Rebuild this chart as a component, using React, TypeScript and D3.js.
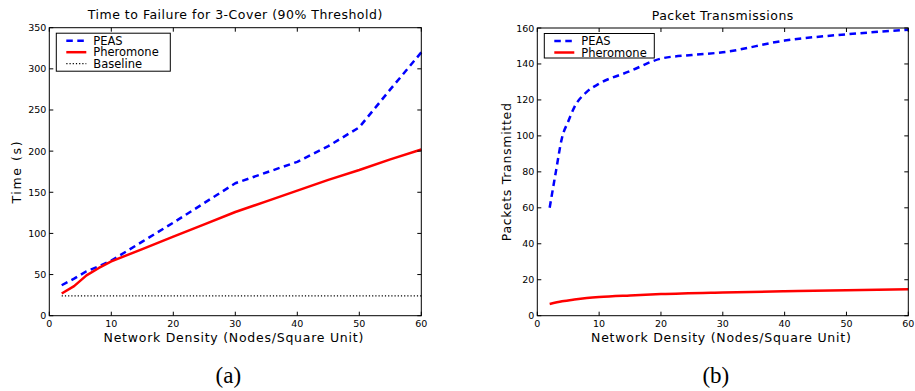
import React, { useEffect, useRef } from 'react';
import * as d3 from 'd3';

// ---- data ----
const densityA = [2, 4, 6, 8, 10, 15, 20, 25, 30, 35, 40, 45, 50, 55, 60];
const peasTime = [37, 45, 54, 60, 67, 90, 113, 137, 161, 174, 187, 206, 229, 275, 320];
const pheromoneTime = [27, 36, 49, 58, 66, 81, 96, 111, 126, 139, 152, 165, 177, 190, 202];
const baselineX = [2, 60];
const baselineTime = [24, 24];

const densityPeasB = [2, 3, 4, 5, 6, 8, 10, 15, 20, 25, 30, 40, 50, 60];
const peasPackets = [60, 80, 99, 108, 116, 124.5, 129, 136, 143, 145, 146.5, 153, 156.5, 159];
const densityPherB = [2, 4, 6, 8, 10, 15, 20, 30, 40, 50, 60];
const pheromonePackets = [6.5, 8, 9, 9.8, 10.4, 11.3, 12, 12.9, 13.6, 14.2, 14.7];

const xTicks = [0, 10, 20, 30, 40, 50, 60];
const yTicksA = [0, 50, 100, 150, 200, 250, 300, 350];
const yTicksB = [0, 20, 40, 60, 80, 100, 120, 140, 160];

const FONT = 'DejaVu Sans, sans-serif';

type Series = {
    name: string;
    xs: number[];
    ys: number[];
    color: string;
    width: number;
    dash: string | null;
};

type PanelProps = {
    left: number;
    right: number;
    top: number;
    bottom: number;
    yMax: number;
    yTicks: number[];
    title: string;
    yLabel: string;
    yLabelX: number;
    yLabelSpacing: number;
    caption: string;
    series: Series[];
    smooth: boolean;
    legendW: number;
    legendH: number;
};

function drawPanel(svg: d3.Selection<SVGSVGElement, unknown, null, undefined>, p: PanelProps) {
    const g = svg.append('g');
    const x = d3.scaleLinear().domain([0, 60]).range([p.left, p.right]);
    const y = d3.scaleLinear().domain([0, p.yMax]).range([p.bottom, p.top]);
    const tickLen = 4;

    // lines
    const line = d3.line<[number, number]>()
        .x(d => x(d[0]))
        .y(d => y(d[1]))
        .curve(p.smooth ? d3.curveMonotoneX : d3.curveLinear);

    p.series.forEach(s => {
        const pts: [number, number][] = s.xs.map((v, i) => [v, s.ys[i]]);
        g.append('path')
            .attr('d', line(pts))
            .attr('fill', 'none')
            .attr('stroke', s.color)
            .attr('stroke-width', s.width)
            .attr('stroke-dasharray', s.dash)
            .attr('stroke-linejoin', 'round');
    });

    // frame
    g.append('rect')
        .attr('x', p.left).attr('y', p.top)
        .attr('width', p.right - p.left).attr('height', p.bottom - p.top)
        .attr('fill', 'none').attr('stroke', '#000').attr('stroke-width', 1);

    // ticks, inside on all four sides
    xTicks.forEach(t => {
        g.append('line').attr('x1', x(t)).attr('x2', x(t)).attr('y1', p.bottom).attr('y2', p.bottom - tickLen).attr('stroke', '#000');
        g.append('line').attr('x1', x(t)).attr('x2', x(t)).attr('y1', p.top).attr('y2', p.top + tickLen).attr('stroke', '#000');
        g.append('text').attr('x', x(t)).attr('y', p.bottom + 11)
            .attr('text-anchor', 'middle').attr('font-size', 9.5).attr('font-family', FONT)
            .text(t);
    });
    p.yTicks.forEach(t => {
        g.append('line').attr('x1', p.left).attr('x2', p.left + tickLen).attr('y1', y(t)).attr('y2', y(t)).attr('stroke', '#000');
        g.append('line').attr('x1', p.right).attr('x2', p.right - tickLen).attr('y1', y(t)).attr('y2', y(t)).attr('stroke', '#000');
        g.append('text').attr('x', p.left - 3).attr('y', y(t) + 3.5)
            .attr('text-anchor', 'end').attr('font-size', 9.5).attr('font-family', FONT)
            .text(t);
    });

    const cx = (p.left + p.right) / 2;
    const cy = (p.top + p.bottom) / 2;

    g.append('text').attr('x', cx).attr('y', p.top - 8.5)
        .attr('text-anchor', 'middle').attr('font-size', 12.5).attr('font-family', FONT)
        .attr('letter-spacing', 0.5)
        .text(p.title);
    g.append('text').attr('x', cx - 1.5).attr('y', p.bottom + 26)
        .attr('text-anchor', 'middle').attr('font-size', 12.5).attr('font-family', FONT)
        .attr('letter-spacing', 0.75)
        .text('Network Density (Nodes/Square Unit)');
    g.append('text')
        .attr('transform', `translate(${p.yLabelX},${cy}) rotate(-90)`)
        .attr('text-anchor', 'middle').attr('font-size', 12.5).attr('font-family', FONT)
        .attr('letter-spacing', p.yLabelSpacing)
        .text(p.yLabel);
    g.append('text').attr('x', cx - 7).attr('y', p.bottom + 67)
        .attr('text-anchor', 'middle').attr('font-size', 23).attr('font-family', 'Liberation Serif, serif')
        .text(p.caption);

    // legend
    const lx = p.left + 7;
    const ly = p.top + 5.5;
    const rowH = 11.5;
    g.append('rect')
        .attr('x', lx).attr('y', ly)
        .attr('width', p.legendW).attr('height', p.legendH)
        .attr('fill', '#fff').attr('stroke', '#000').attr('stroke-width', 1);
    p.series.forEach((s, i) => {
        const yy = ly + 7.5 + i * rowH;
        g.append('line')
            .attr('x1', lx + 10).attr('x2', lx + 30).attr('y1', yy).attr('y2', yy)
            .attr('stroke', s.color).attr('stroke-width', s.width).attr('stroke-dasharray', s.dash);
        g.append('text').attr('x', lx + 37).attr('y', yy + 4)
            .attr('font-size', 11.5).attr('font-family', FONT)
            .text(s.name);
    });
}

const App = () => {
    const svgRef = useRef<SVGSVGElement>(null);

    useEffect(() => {
        const svg = d3.select(svgRef.current!) as d3.Selection<SVGSVGElement, unknown, null, undefined>;
        svg.selectAll('*').remove();

        drawPanel(svg, {
            left: 49.3, right: 421.3, top: 27.7, bottom: 315.7,
            yMax: 350, yTicks: yTicksA,
            title: 'Time to Failure for 3-Cover (90% Threshold)',
            yLabel: 'Time (s)', yLabelX: 20.5, yLabelSpacing: 1.6,
            caption: '(a)', smooth: false, legendW: 114, legendH: 38,
            series: [
                { name: 'PEAS', xs: densityA, ys: peasTime, color: '#0000ff', width: 2.5, dash: '6.5,4.5' },
                { name: 'Pheromone', xs: densityA, ys: pheromoneTime, color: '#ff0000', width: 2.5, dash: null },
                { name: 'Baseline', xs: baselineX, ys: baselineTime, color: '#000', width: 1.2, dash: '1.2,2' },
            ],
        });

        drawPanel(svg, {
            left: 537.3, right: 908.3, top: 28, bottom: 315.7,
            yMax: 160, yTicks: yTicksB,
            title: 'Packet Transmissions',
            yLabel: 'Packets Transmitted', yLabelX: 511, yLabelSpacing: 0.7,
            caption: '(b)', smooth: true, legendW: 110, legendH: 24.5,
            series: [
                { name: 'PEAS', xs: densityPeasB, ys: peasPackets, color: '#0000ff', width: 2.5, dash: '6.5,4.5' },
                { name: 'Pheromone', xs: densityPherB, ys: pheromonePackets, color: '#ff0000', width: 2.5, dash: null },
            ],
        });
    }, []);

    return (
        <svg ref={svgRef} width={915} height={391}
            style={{ position: 'absolute', left: 0, top: 0, background: '#fff' }} />
    );
};

export default App;
